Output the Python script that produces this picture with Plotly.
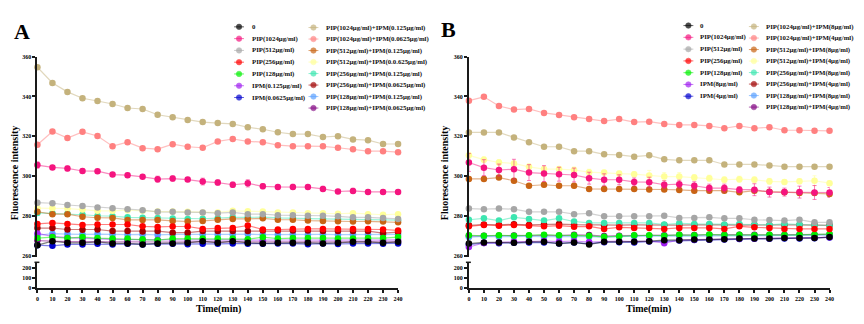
import plotly.graph_objects as go

time = list(range(0, 241, 10))

# ---------------- Panel A data ----------------
A_names_c1 = ["0", "PIP(1024μg/ml)", "PIP(512μg/ml)", "PIP(256μg/ml)", "PIP(128μg/ml)",
              "IPM(0.125μg/ml)", "IPM(0.0625μg/ml)"]
A_names_c2 = ["PIP(1024μg/ml)+IPM(0.125μg/ml)", "PIP(1024μg/ml)+IPM(0.0625μg/ml)",
              "PIP(512μg/ml)+IPM(0.125μg/ml)", "PIP(512μg/ml)+IPM(0.0.625μg/ml)",
              "PIP(256μg/ml)+IPM(0.125μg/ml)", "PIP(256μg/ml)+IPM(0.0625μg/ml)",
              "PIP(128μg/ml)+IPM(0.125μg/ml)", "PIP(128μg/ml)+IPM(0.0625μg/ml)"]

A_zero = [265.2,267.2,266.4,266.4,266.9,266.1,266.1,265.6,266.1,266.1,266.4,267.2,266.4,267.2,266.4,266.1,266.4,266.4,266.4,266.1,266.4,266.9,266.9,266.4,266.9]
A_pip1024 = [305.5,304.3,303.8,302.5,302.4,300.7,300.4,299.6,298.4,298.7,298.2,297.2,296.7,295.6,296.3,294.8,294.5,294.5,294.4,293.5,292.2,292.5,292.0,292.0,292.0]
A_pip1024_err = [1.6,1.0,1.2,1.0,0.6,0.7,1.0,0.6,1.5,1.3,1.0,1.7,1.3,1.3,1.8,1.2,1.0,1.3,1.0,1.3,0.8,1.3,1.0,1.0,1.0]
A_pip512 = [286.6,286.3,285.4,284.9,284.1,283.8,283.3,282.8,282.0,282.0,281.7,281.7,281.3,281.7,280.8,280.8,280.3,280.3,280.0,280.0,279.7,279.2,279.2,278.9,278.4]
A_pip512_err = [0.4,0.4,0.4,1.0,0.4,0.4,0.4,0.4,0.4,0.4,0.4,0.4,0.4,0.4,0.4,0.4,0.4,0.4,0.4,0.4,0.4,0.4,0.4,0.4,0.4]
A_pip256 = [275.9,276.4,275.9,275.4,275.6,275.6,275.6,274.7,274.4,274.6,274.6,273.4,273.8,273.9,275.1,273.1,273.1,273.4,273.4,273.4,273.3,273.3,273.4,273.1,272.6]
A_pip128 = [268.8,269.3,268.8,269.3,268.8,268.5,268.5,268.2,267.7,268.5,268.5,268.5,268.5,268.5,268.2,269.2,268.5,268.8,268.8,268.8,268.5,268.5,268.8,268.8,269.3]
A_ipm_hi = [271.1,269.6,269.0,268.6,268.3,268.1,268.0,267.9,267.9,267.8,267.8,267.9,267.8,267.9,267.8,267.7,267.8,267.9,267.8,267.7,267.8,267.9,267.8,267.7,267.9]
A_ipm_lo = [265.2,264.9,265.6,265.6,265.9,265.6,265.9,265.6,265.9,265.9,265.7,265.9,265.9,266.0,265.9,265.9,266.0,266.0,265.7,266.0,265.8,266.0,266.1,265.9,266.1]
A_c1024_hi = [354.7,346.8,342.3,339.1,337.7,336.2,334.2,333.7,330.8,329.6,328.1,327.1,326.6,326.2,324.5,323.5,322.0,321.1,321.1,319.6,320.0,318.4,318.0,316.1,316.1]
A_c1024_lo = [315.7,322.4,319.1,322.2,320.1,315.0,317.0,314.0,313.5,316.0,314.7,314.2,317.4,318.6,317.4,317.0,315.5,315.0,315.0,314.9,314.2,313.5,312.5,312.5,312.0]
A_c1024_lo_err = [0.4,1.0,0.5,0.8,0.5,0.4,0.4,0.4,0.4,0.4,0.4,0.4,0.4,0.4,0.4,0.4,0.4,0.4,0.4,0.4,0.4,0.4,0.4,0.4,0.4]
A_c512_hi = [282.0,280.8,280.8,279.5,279.0,278.9,277.9,277.9,277.9,277.4,277.1,277.4,278.0,278.4,278.4,278.7,278.0,278.0,277.6,277.4,277.2,277.1,277.2,277.1,276.7]
A_c512_lo = [283.8,283.8,283.6,283.1,282.5,282.5,282.8,282.5,282.1,282.1,282.0,281.7,281.7,282.5,282.3,282.1,281.7,281.7,281.3,281.3,281.0,281.3,280.8,280.5,280.8]
A_c256_hi = [281.4,281.2,281.0,280.5,280.0,279.8,279.2,279.0,278.9,278.6,278.4,278.5,278.8,279.2,279.2,279.3,278.9,278.9,278.6,278.4,278.3,278.3,278.2,278.0,277.8]
A_c256_lo = [273.8,273.8,273.1,273.0,273.1,272.3,272.3,272.1,272.3,271.5,271.5,272.3,272.3,272.3,272.3,272.6,272.6,272.6,272.6,272.3,272.3,272.3,272.3,271.3,271.8]
A_c128_hi = [270.2,271.0,270.8,270.6,270.8,270.6,270.5,270.6,270.4,270.6,270.5,270.6,270.6,270.6,270.8,270.5,270.6,270.6,270.5,270.6,270.5,270.6,270.6,270.5,270.6]
A_c128_lo = [267.5,267.2,267.0,267.0,267.1,266.9,266.9,266.8,266.9,266.8,266.9,266.9,266.8,266.9,266.8,266.9,266.8,266.9,266.8,266.9,266.8,266.8,266.9,266.8,266.9]

# ---------------- Panel B data ----------------
B_names_c1 = ["0", "PIP(1024μg/ml)", "PIP(512μg/ml)", "PIP(256μg/ml)", "PIP(128μg/ml)",
              "IPM(8μg/ml)", "IPM(4μg/ml)"]
B_names_c2 = ["PIP(1024μg/ml)+IPM(8μg/ml)", "PIP(1024μg/ml)+IPM(4μg/ml)",
              "PIP(512μg/ml)+IPM(8μg/ml)", "PIP(512μg/ml)+IPM(4μg/ml)",
              "PIP(256μg/ml)+IPM(8μg/ml)", "PIP(256μg/ml)+IPM(4μg/ml)",
              "PIP(128μg/ml)+IPM(8μg/ml)", "PIP(128μg/ml)+IPM(4μg/ml)"]

B_zero = [266.0,266.6,266.6,266.4,266.9,266.9,266.0,266.6,265.6,266.9,266.9,266.9,267.2,267.7,267.7,268.0,268.0,268.2,268.5,268.5,268.5,268.8,268.8,268.8,269.3]
B_pip1024 = [306.8,304.2,303.0,303.4,301.7,301.2,300.9,300.5,298.9,298.1,298.1,297.0,296.9,295.6,295.9,295.1,293.9,293.9,293.1,293.1,291.9,291.9,291.9,291.7,291.7]
B_pip1024_err = [4.5,4.0,3.0,5.0,4.0,4.0,3.5,3.5,3.0,3.0,2.5,2.0,2.5,2.0,2.0,2.0,2.0,2.0,1.5,3.0,2.5,2.0,3.0,3.5,2.5]
B_pip512 = [283.6,283.3,283.6,283.3,282.0,282.0,282.0,280.8,281.2,279.7,279.7,279.7,279.7,280.0,278.9,278.9,279.2,278.7,278.7,278.0,277.9,277.6,278.0,276.7,276.7]
B_pip256 = [274.7,275.4,275.0,275.4,275.0,274.7,275.0,274.5,274.7,273.4,274.2,273.9,273.9,273.4,273.9,273.9,273.9,273.4,274.7,274.2,273.9,273.4,273.4,273.4,273.4]
B_pip128 = [270.2,269.9,270.2,269.9,270.2,270.5,270.2,270.2,269.9,269.4,269.7,270.2,270.2,270.0,270.4,270.2,270.6,270.3,270.4,270.2,270.4,270.3,270.5,270.4,270.8]
B_ipm_hi = [264.3,266.3,266.5,267.0,267.0,267.3,267.0,267.3,266.8,267.0,267.3,267.0,267.3,266.2,267.8,268.0,268.2,268.3,268.5,268.6,268.7,268.9,268.9,269.0,269.2]
B_ipm_lo = [265.5,266.3,266.2,266.4,266.6,266.6,266.1,266.5,266.0,266.7,266.7,266.6,267.0,267.2,267.5,267.8,267.9,268.0,268.3,268.4,268.4,268.6,268.6,268.7,269.1]
B_c1024_hi = [321.9,321.9,321.9,319.4,317.0,314.7,314.7,312.5,312.5,310.9,310.6,309.7,310.4,308.4,307.9,307.9,307.9,305.8,305.8,305.8,305.3,304.7,304.7,304.7,304.7]
B_c1024_lo = [337.9,339.8,335.2,333.4,333.7,331.7,330.7,329.6,328.6,327.6,328.6,327.1,327.3,326.2,325.7,325.7,325.2,324.0,325.2,324.0,324.5,323.0,323.0,322.7,322.7]
B_c512_hi = [298.5,298.5,299.2,297.6,295.1,295.6,295.1,295.1,293.5,293.5,293.5,293.5,293.2,293.2,293.0,292.6,292.6,292.6,291.8,292.6,292.1,291.8,291.5,291.5,291.0]
B_c512_hi_err = [1.0]*25
B_c512_lo = [310.4,308.2,306.8,306.3,304.6,303.5,303.5,303.0,301.9,301.7,301.2,300.9,300.3,299.7,299.7,299.2,298.9,298.1,298.4,298.1,297.3,297.0,297.3,297.6,296.4]
B_c512_lo_err = [1.5,1.5,1.5,1.2,1.5,1.5,1.2,1.5,1.5,1.2,1.2,1.2,2.5,2.0,2.0,1.5,1.5,1.5,1.5,1.5,1.5,1.2,1.2,2.5,1.2]
B_c256_hi = [278.0,278.7,277.6,279.2,278.4,277.6,278.7,277.1,276.4,276.4,276.4,276.4,276.4,275.6,276.2,275.9,275.9,275.6,275.9,275.6,275.4,275.9,275.6,275.4,275.1]
B_c256_lo = [275.2,275.6,275.4,275.7,275.4,275.6,275.8,275.5,275.4,275.2,275.3,275.4,275.3,275.4,275.3,275.4,275.5,275.4,275.3,275.4,275.2,275.3,275.4,275.3,275.2]
B_c128_hi = [269.3,269.6,269.5,269.7,269.6,269.5,269.6,269.4,269.5,269.3,269.6,269.7,269.8,269.7,269.8,269.8,269.9,269.9,269.9,270.0,270.0,270.1,270.0,270.1,270.2]
B_c128_lo = [269.8,270.0,269.9,270.1,270.0,270.2,270.0,270.4,270.3,269.8,270.0,270.1,270.0,270.2,270.4,270.3,270.5,270.4,270.5,270.4,270.5,270.4,270.6,270.5,270.6]

# colours (legend order: col1 then col2)
C1 = ["#000000", "#F5147F", "#A6A6A6", "#FF0000", "#00F000", "#A020F0", "#0000CD"]
C2 = ["#C4B27C", "#FF8080", "#C86414", "#FFFF99", "#3CE6B0", "#A00000", "#5AA0FF", "#800080"]

A_c1 = [A_zero, A_pip1024, A_pip512, A_pip256, A_pip128, A_ipm_hi, A_ipm_lo]
A_c2 = [A_c1024_hi, A_c1024_lo, A_c512_hi, A_c512_lo, A_c256_hi, A_c256_lo, A_c128_hi, A_c128_lo]
A_err1 = [None, A_pip1024_err, A_pip512_err, None, None, None, None]
A_err2 = [None, A_c1024_lo_err, None, None, None, None, None, None]
B_c1 = [B_zero, B_pip1024, B_pip512, B_pip256, B_pip128, B_ipm_hi, B_ipm_lo]
B_c2 = [B_c1024_hi, B_c1024_lo, B_c512_hi, B_c512_lo, B_c256_hi, B_c256_lo, B_c128_hi, B_c128_lo]
B_err1 = [None, B_pip1024_err, None, None, None, None, None]
B_err2 = [None, None, B_c512_hi_err, B_c512_lo_err, None, None, None, None]

W, H = 864, 324
FONT = "Liberation Serif"


def rgba(hexc, a):
    h = hexc.lstrip("#")
    r, g, b = int(h[0:2], 16), int(h[2:4], 16), int(h[4:6], 16)
    return f"rgba({r},{g},{b},{a})"


def py2f(p):
    return (H - p) / H


fig = go.Figure()

# empty traces so that the lower (broken) axis segments exist as subplots
for xa, ya in (("x", "y2"), ("x2", "y4")):
    fig.add_trace(go.Scatter(x=[], y=[], xaxis=xa, yaxis=ya, showlegend=False,
                             mode="markers", hoverinfo="skip"))


def add_series(xa, ya, ys, col, err):
    ed = None
    if err is not None:
        ed = dict(type="data", array=err, color=rgba(col, 0.55), thickness=1, width=2)
    fig.add_trace(go.Scatter(
        x=time, y=ys, mode="lines+markers", xaxis=xa, yaxis=ya, showlegend=False,
        line=dict(color=rgba(col, 0.5), width=1.2),
        marker=dict(color=col, size=6.5),
        error_y=ed, cliponaxis=False, hoverinfo="skip"))


for (xa, ya, s1, s2, e1, e2) in [("x", "y", A_c1, A_c2, A_err1, A_err2),
                                  ("x2", "y3", B_c1, B_c2, B_err1, B_err2)]:
    # combos first, then singles (reverse), "0" last on top
    for i in range(len(s2) - 1, -1, -1):
        add_series(xa, ya, s2[i], C2[i], e2[i])
    for i in range(len(s1) - 1, -1, -1):
        add_series(xa, ya, s1[i], C1[i], e1[i])

# ---------------- Legends (manual, pixel overlay) ----------------
annotations = []
legend_cols = [
    (239, 250, 24.3, 12.0, A_names_c1, C1),
    (314, 325, 25.0, 11.72, A_names_c2, C2),
    (692, 702, 23.0, 12.0, B_names_c1, C1),
    (758, 768, 24.0, 11.72, B_names_c2, C2),
]
for (mx, tx, y0, dy, names, cols) in legend_cols:
    for k, (nm, c) in enumerate(zip(names, cols)):
        yy = y0 + k * dy
        fig.add_trace(go.Scatter(
            x=[mx - 5, mx, mx + 5], y=[yy, yy, yy], mode="lines+markers",
            xaxis="x3", yaxis="y5", showlegend=False, hoverinfo="skip",
            line=dict(color=rgba(c, 0.6), width=1),
            marker=dict(color=c, size=[0, 5.5, 0]), cliponaxis=False))
        annotations.append(dict(
            x=tx, y=yy, xref="x3", yref="y5", text=nm, showarrow=False,
            xanchor="left", yanchor="middle",
            font=dict(family=FONT, size=6.8, color="#111111", weight="bold")))

# titles
annotations += [
    dict(x=20, y=29, text="A", xref="x3", yref="y5", showarrow=False,
         font=dict(family=FONT, size=22, color="black", weight="bold")),
    dict(x=450, y=27, text="B", xref="x3", yref="y5", showarrow=False,
         font=dict(family=FONT, size=22, color="black", weight="bold")),
    dict(x=12.5, y=173, text="Fluorescence intensity", textangle=-90, xref="x3", yref="y5",
         showarrow=False, font=dict(family=FONT, size=10, color="black", weight="bold")),
    dict(x=446, y=173, text="Fluorescence intensity", textangle=-90, xref="x3", yref="y5",
         showarrow=False, font=dict(family=FONT, size=10, color="black", weight="bold")),
    dict(x=218, y=312, text="Time(min)", xref="x3", yref="y5", showarrow=False,
         font=dict(family=FONT, size=10, color="black", weight="bold")),
    dict(x=652, y=312, text="Time(min)", xref="x3", yref="y5", showarrow=False,
         font=dict(family=FONT, size=10, color="black", weight="bold")),
]

# axis break marks
shapes = []
for ax_px in (35.7, 470.7):
    shapes.append(dict(type="line", xref="x3", yref="y5", x0=ax_px - 3, x1=ax_px + 2,
                       y0=264.2, y1=264.2, line=dict(color="#1a1a1a", width=1.5)))

tickfont = dict(family=FONT, size=6, color="black", weight="bold")
axis_common = dict(showgrid=False, zeroline=False, showline=True, linewidth=2,
                   linecolor="#1a1a1a", ticks="outside", ticklen=3, tickwidth=1.5,
                   tickcolor="#1a1a1a", tickfont=tickfont)

up_dom = [py2f(258.5), py2f(54.7)]
lo_dom = [py2f(290.7), py2f(264.2)]
xA = [35.7 / W, 399.3 / W]
xB = [470.7 / W, 834.3 / W]

fig.update_layout(
    width=W, height=H, autosize=False,
    margin=dict(l=0, r=0, t=0, b=0, pad=0),
    paper_bgcolor="white", plot_bgcolor="rgba(0,0,0,0)",
    showlegend=False,
    xaxis=dict(domain=xA, range=[0, 240], anchor="y2", tickvals=time, **axis_common),
    yaxis=dict(domain=up_dom, range=[259.4, 360], anchor="x",
               tickvals=[260, 280, 300, 320, 340, 360], **axis_common),
    yaxis2=dict(domain=lo_dom, range=[0, 257], anchor="x", tickvals=[0, 100, 200], **axis_common),
    xaxis2=dict(domain=xB, range=[0, 240], anchor="y4", tickvals=time, **axis_common),
    yaxis3=dict(domain=up_dom, range=[259.4, 360], anchor="x2",
                tickvals=[260, 280, 300, 320, 340, 360], **axis_common),
    yaxis4=dict(domain=lo_dom, range=[0, 257], anchor="x2", tickvals=[0, 100, 200], **axis_common),
    xaxis3=dict(domain=[0, 1], range=[0, W], anchor="y5", visible=False, fixedrange=True),
    yaxis5=dict(domain=[0, 1], range=[H, 0], anchor="x3", visible=False, fixedrange=True),
    annotations=annotations,
    shapes=shapes,
)

fig.write_html("out.html")
